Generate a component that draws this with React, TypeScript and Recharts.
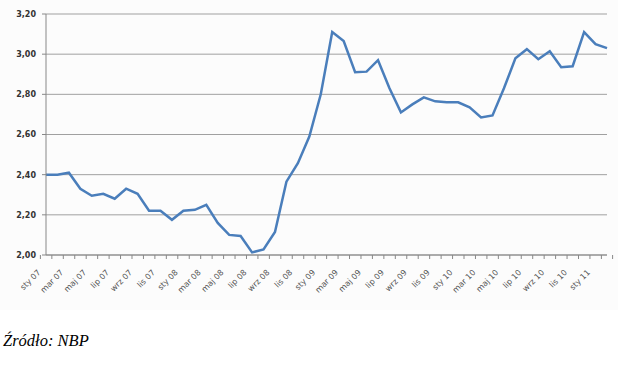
import React from 'react';
import { LineChart, Line, XAxis, YAxis, CartesianGrid } from 'recharts';

const categories: string[] = [
  'sty 07', 'lut 07', 'mar 07', 'kwi 07', 'maj 07', 'cze 07', 'lip 07', 'sie 07', 'wrz 07', 'paź 07', 'lis 07', 'gru 07',
  'sty 08', 'lut 08', 'mar 08', 'kwi 08', 'maj 08', 'cze 08', 'lip 08', 'sie 08', 'wrz 08', 'paź 08', 'lis 08', 'gru 08',
  'sty 09', 'lut 09', 'mar 09', 'kwi 09', 'maj 09', 'cze 09', 'lip 09', 'sie 09', 'wrz 09', 'paź 09', 'lis 09', 'gru 09',
  'sty 10', 'lut 10', 'mar 10', 'kwi 10', 'maj 10', 'cze 10', 'lip 10', 'sie 10', 'wrz 10', 'paź 10', 'lis 10', 'gru 10',
  'sty 11', 'lut 11',
];

const values: number[] = [
  2.40, 2.40, 2.41, 2.33, 2.295, 2.305, 2.28, 2.33, 2.305, 2.22, 2.22, 2.175,
  2.22, 2.225, 2.25, 2.16, 2.10, 2.095, 2.013, 2.028, 2.115, 2.365, 2.457, 2.59,
  2.80, 3.11, 3.065, 2.91, 2.913, 2.97, 2.83, 2.71, 2.75, 2.785, 2.765, 2.76,
  2.76, 2.735, 2.685, 2.695, 2.83, 2.98, 3.025, 2.975, 3.015, 2.935, 2.94, 3.11,
  3.05, 3.03,
];

const yTicks: number[] = [2.0, 2.2, 2.4, 2.6, 2.8, 3.0, 3.2];

const sourceLabel = 'Źródło: NBP';

const data = categories.map((c, i) => ({ name: c, value: values[i] }));

const XTick = (props: any) => {
  const { x, y, payload, index } = props;
  const off = payload && typeof payload.offset === 'number' && payload.offset > 0 ? payload.offset : 5.6;
  const idx = typeof index === 'number' ? index : payload.index;
  const showLabel = idx % 2 === 0;
  const isLast = idx === categories.length - 1;
  const ax = x - 5;
  const ay = y + 18;
  return (
    <g>
      <line x1={x - off} y1={y} x2={x - off} y2={y + 4} stroke="#888" strokeWidth={1} />
      {isLast && <line x1={x + off} y1={y} x2={x + off} y2={y + 4} stroke="#888" strokeWidth={1} />}
      {showLabel && (
        <text
          x={0}
          y={0}
          textAnchor="end"
          transform={`matrix(0.7071 -0.7071 0.7071 0.7071 ${ax} ${ay})`}
          fontFamily="DejaVu Sans"
          fontSize={8}
          fill="#555"
        >
          {payload.value}
        </text>
      )}
    </g>
  );
};

export default function App() {
  return (
    <div style={{ position: 'absolute', left: 0, top: 0, width: 632, height: 373, background: '#fff' }}>
      <div style={{ position: 'absolute', left: 0, top: 0, width: 618, height: 310, background: '#fcfcfc' }}>
        <LineChart width={618} height={310} data={data} margin={{ top: 14, right: 11, left: 0, bottom: 0 }}>
          <CartesianGrid vertical={false} stroke="#a0a0a0" strokeWidth={1} />
          <XAxis
            dataKey="name"
            interval={0}
            height={55}
            tickLine={false}
            tickSize={0}
            tickMargin={0}
            axisLine={{ stroke: '#888' }}
            tick={(p: any) => <XTick {...p} />}
          />
          <YAxis
            width={46}
            domain={[2.0, 3.2]}
            ticks={yTicks}
            interval={0}
            tickSize={4}
            tickMargin={6}
            axisLine={{ stroke: '#888' }}
            tickLine={{ stroke: '#888' }}
            tickFormatter={(v: number) => v.toFixed(2).replace('.', ',')}
            tick={{ fontFamily: 'DejaVu Sans', fontSize: 8, fontWeight: 'bold', fill: '#333' }}
          />
          <Line
            type="linear"
            dataKey="value"
            stroke="#4a7ebb"
            strokeWidth={2.5}
            dot={false}
            isAnimationActive={false}
          />
        </LineChart>
      </div>
      <div
        style={{
          position: 'absolute',
          left: 3,
          top: 331,
          fontFamily: '"Liberation Serif", serif',
          fontStyle: 'italic',
          fontSize: 16.5,
          color: '#000',
          whiteSpace: 'nowrap',
        }}
      >
        {sourceLabel}
      </div>
    </div>
  );
}
